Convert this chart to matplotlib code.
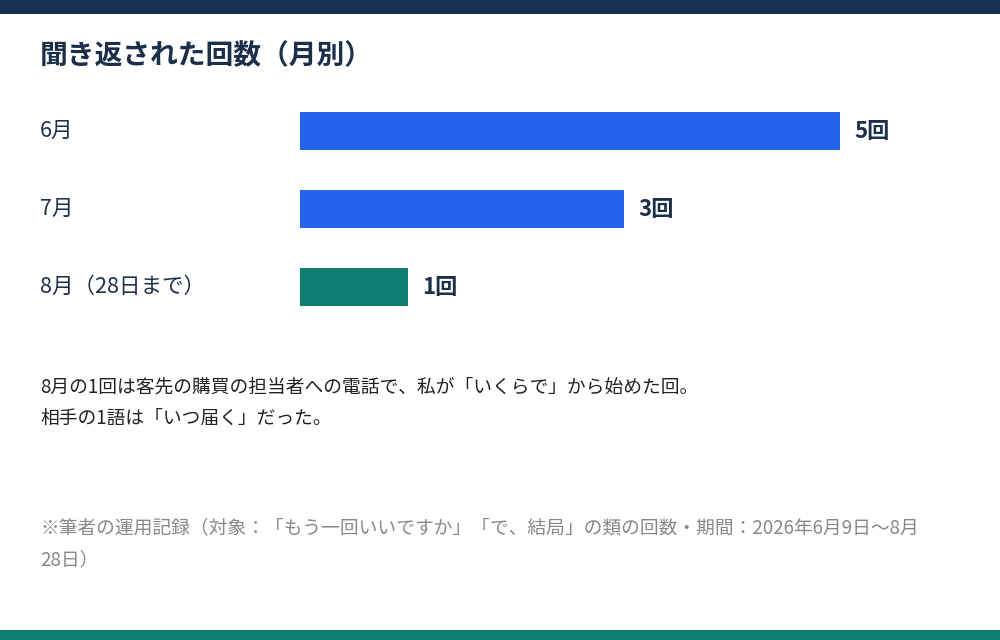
import matplotlib.pyplot as plt
from matplotlib.patches import Rectangle

plt.rcParams['font.family'] = ['Noto Sans CJK JP', 'DejaVu Sans']

# data
months = ["6月", "7月", "8月（28日まで）"]
counts = [5, 3, 1]
bar_colors = ["#2563eb", "#2563eb", "#0f7f72"]
value_labels = ["5回", "3回", "1回"]

title = "聞き返された回数（月別）"
note_lines = ["8月の1回は客先の購買の担当者への電話で、私が「いくらで」から始めた回。",
              "相手の1語は「いつ届く」だった。"]
source_lines = ["※筆者の運用記録（対象：「もう一回いいですか」「で、結局」の類の回数・期間：2026年6月9日〜8月",
                "28日）"]

navy = "#17304f"
text_c = "#1c2f4a"
W, H = 1000, 640

fig = plt.figure(figsize=(10, 6.4), dpi=100)
fig.patch.set_facecolor("white")

# top and bottom bands
fig.add_artist(Rectangle((0, 1 - 14 / H), 1, 14 / H, transform=fig.transFigure,
                         color=navy, lw=0))
fig.add_artist(Rectangle((0, 0), 1, 10 / H, transform=fig.transFigure,
                         color="#0f7f72", lw=0))

fig.text(40 / W, 1 - 56 / H, title, fontsize=20, fontweight="bold",
         color=text_c, va="center", ha="left")

# bar axes: 108 px per count
ax = fig.add_axes([300 / W, 1 - 326 / H, 648 / W, 234 / H])
ypos = list(range(len(months)))
ax.barh(ypos, counts, height=38 / 78, color=bar_colors)
ax.set_xlim(0, 6)
ax.set_ylim(2.5, -0.5)
ax.axis("off")

for y, c, lab in zip(ypos, counts, value_labels):
    ax.annotate(lab, (c, y), xytext=(14, 0), textcoords="offset pixels",
                va="center", ha="left", fontsize=16, fontweight="bold",
                color=text_c)

for y, m in zip(ypos, months):
    yp = 131 + 78 * y
    fig.text(40 / W, 1 - yp / H, m, fontsize=15.5, color=text_c,
             va="center", ha="left")

for i, line in enumerate(note_lines):
    fig.text(40 / W, 1 - (387 + 31 * i) / H, line, fontsize=13.5,
             color="#222222", va="center", ha="left")

for i, line in enumerate(source_lines):
    fig.text(40 / W, 1 - (528 + 32 * i) / H, line, fontsize=13.5,
             color="#888888", va="center", ha="left")

fig.savefig("out.png", dpi=100)
